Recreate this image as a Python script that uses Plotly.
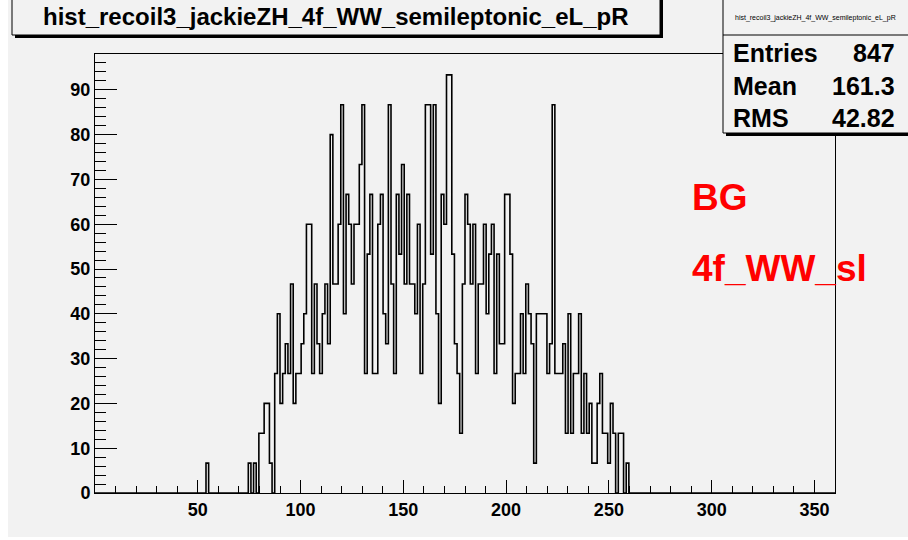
import plotly.graph_objects as go

# ---------------- data ----------------
x_min, x_max, n_bins = 0.0, 360.0, 280
entry_weight = 20.0 / 3.0
first_bin = 42
# raw entries per bin, starting at bin index 42
counts = [
    1,
    0, 0, 0, 0, 0, 0, 0, 0, 0, 0, 0, 0, 0, 0, 0,
    1, 0, 1, 0, 2, 2, 3, 3, 1, 0,
    4, 6, 3, 4, 5, 4, 7, 3, 4, 4,
    5, 6, 9, 9, 4, 7, 5, 4, 6, 7,
    5, 12, 7, 7, 9, 13, 6, 10, 9, 7,
    9, 9, 11, 13, 4, 8, 10, 4, 4, 9,
    10, 6, 5, 13, 7, 4, 10, 8, 11, 7,
    10, 7, 7, 6, 9, 4, 7, 13, 13, 8,
    13, 6, 3, 10, 9, 14, 14, 8, 5, 4,
    2, 7, 10, 9, 7, 9, 4, 7, 7, 9,
    6, 8, 9, 4, 8, 5, 5, 10, 10, 8,
    3, 4, 4, 6, 4, 7, 6, 5, 1, 6,
    6, 6, 6, 4, 5, 13, 4, 4, 4, 5,
    2, 6, 2, 4, 4, 6, 2, 4, 2, 3,
    1, 1, 3, 4, 2, 2, 1, 3, 2, 0,
    2, 2, 0, 1, 0,
]
x_tick_vals = [50, 100, 150, 200, 250, 300, 350]
y_tick_vals = [0, 10, 20, 30, 40, 50, 60, 70, 80, 90]
hist_title = "hist_recoil3_jackieZH_4f_WW_semileptonic_eL_pR"
stats_labels = ["Entries", "Mean", "RMS"]
stats_values = ["847", "161.3", "42.82"]
legend_lines = ["BG", "4f_WW_sl"]

# ---------------- build step outline ----------------
bw = (x_max - x_min) / n_bins
contents = [0.0] * n_bins
for i, c in enumerate(counts):
    contents[first_bin + i] = c * entry_weight
xs = [x_min + i * bw for i in range(n_bins + 1)]
ys = contents + [contents[-1]]
y_top = 1.05 * max(contents)

W, H = 908, 540
L, R, T, B = 95, 835, 54, 493
BG = "#f2f2f2"
FONT = "Liberation Sans, Arial, Helvetica, sans-serif"


def fx(p):
    return (p - L) / (R - L)


def fy(p):
    return (B - p) / (B - T)


fig = go.Figure()
fig.add_trace(go.Scatter(
    x=xs, y=ys, mode="lines", line_shape="hv",
    line=dict(color="black", width=1.6), hoverinfo="skip", showlegend=False,
))

shapes = []
# canvas
shapes.append(dict(type="rect", xref="paper", yref="paper", layer="below",
                   x0=fx(8), x1=fx(910), y0=fy(-2), y1=fy(537),
                   fillcolor=BG, line=dict(width=0)))
# title box with shadow
shapes.append(dict(type="rect", xref="paper", yref="paper", layer="above",
                   x0=fx(15), x1=fx(663), y0=fy(-2), y1=fy(38),
                   fillcolor="black", line=dict(width=0)))
shapes.append(dict(type="rect", xref="paper", yref="paper", layer="above",
                   x0=fx(12), x1=fx(660), y0=fy(-3), y1=fy(35),
                   fillcolor=BG, line=dict(color="black", width=1)))
# stats box with shadow
shapes.append(dict(type="rect", xref="paper", yref="paper", layer="above",
                   x0=fx(726), x1=fx(912), y0=fy(-2), y1=fy(136),
                   fillcolor="black", line=dict(width=0)))
shapes.append(dict(type="rect", xref="paper", yref="paper", layer="above",
                   x0=fx(723), x1=fx(912), y0=fy(-3), y1=fy(133),
                   fillcolor=BG, line=dict(color="black", width=1)))
shapes.append(dict(type="line", xref="paper", yref="paper", layer="above",
                   x0=fx(723), x1=fx(912), y0=fy(35), y1=fy(35),
                   line=dict(color="black", width=1)))

ann = []
ann.append(dict(xref="paper", yref="paper", x=fx(336), y=fy(17), text=hist_title,
                showarrow=False, xanchor="center", yanchor="middle",
                font=dict(family=FONT, size=24, color="black", weight="bold")))
ann.append(dict(xref="paper", yref="paper", x=fx(815), y=fy(18), text=hist_title,
                showarrow=False, xanchor="center", yanchor="middle",
                font=dict(family=FONT, size=7, color="black")))
row_y = [53, 86, 118]
for lab, val, ry in zip(stats_labels, stats_values, row_y):
    ann.append(dict(xref="paper", yref="paper", x=fx(731), y=fy(ry), text=lab,
                    showarrow=False, xanchor="left", yanchor="middle",
                    font=dict(family=FONT, size=25, color="black", weight="bold")))
    ann.append(dict(xref="paper", yref="paper", x=fx(897), y=fy(ry), text=val,
                    showarrow=False, xanchor="right", yanchor="middle",
                    font=dict(family=FONT, size=25, color="black", weight="bold")))
for txt, ry in zip(legend_lines, [197, 268]):
    ann.append(dict(xref="paper", yref="paper", x=fx(690), y=fy(ry), text=txt,
                    showarrow=False, xanchor="left", yanchor="middle",
                    font=dict(family=FONT, size=37, color="red", weight="bold")))

fig.update_layout(
    width=W, height=H,
    margin=dict(l=L, r=W - R, t=T, b=H - B, pad=0),
    paper_bgcolor="white", plot_bgcolor="rgba(0,0,0,0)",
    shapes=shapes, annotations=ann, showlegend=False,
)
fig.update_xaxes(
    range=[x_min, x_max], showgrid=False, zeroline=False,
    showline=True, linecolor="black", linewidth=1, mirror=True,
    ticks="inside", ticklen=13, tickcolor="black", tickwidth=1,
    tickvals=x_tick_vals, ticktext=[str(v) for v in x_tick_vals],
    tickfont=dict(family=FONT, size=18, color="black", weight="bold"),
    minor=dict(dtick=10, tick0=0, ticks="inside", ticklen=7, tickcolor="black", tickwidth=1),
)
fig.update_yaxes(
    range=[0, y_top], showgrid=False, zeroline=False,
    showline=True, linecolor="black", linewidth=1, mirror=True,
    ticks="inside", ticklen=22, tickcolor="black", tickwidth=1,
    tickvals=y_tick_vals, ticktext=[str(v) for v in y_tick_vals],
    tickfont=dict(family=FONT, size=18, color="black", weight="bold"),
    minor=dict(dtick=2, tick0=0, ticks="inside", ticklen=11, tickcolor="black", tickwidth=1),
)

fig.write_html("out.html", config={"displayModeBar": False},
               post_script="document.body.style.margin='0px';")
